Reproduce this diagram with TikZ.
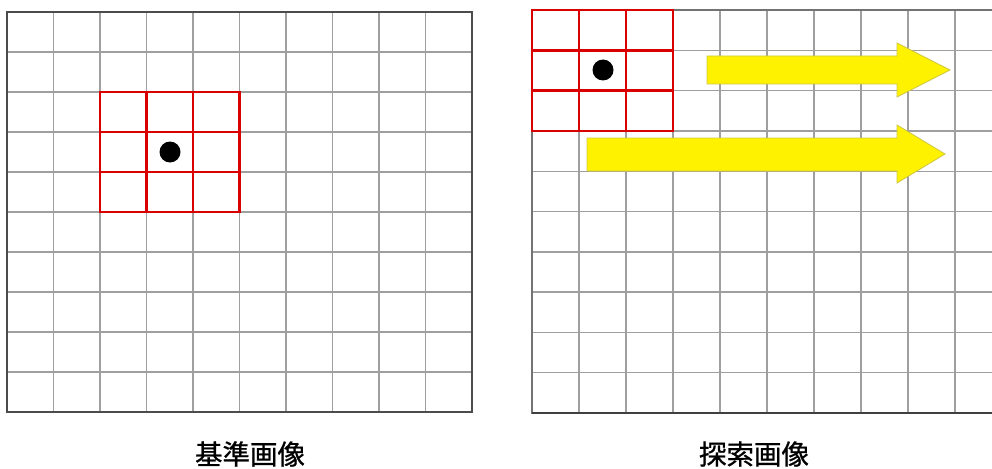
\documentclass[tikz,border=0pt]{standalone}
\usepackage{fontspec}
\newfontfamily\cjk{Noto Sans CJK JP}[FakeBold=0.8]
\tikzset{
  gridline/.style={draw=gray!75, line width=1.4pt},
  frameline/.style={draw=black!70, line width=2.4pt},
  redline/.style={draw=red!85!black, line width=2.8pt},
  yarrow/.style={fill=yellow, draw=yellow!75!black!90, line width=0.8pt, line join=miter},
  dotmark/.style={fill=black},
  caption/.style={font=\cjk\fontsize{27.5}{27.5}\selectfont, text=black, inner sep=0pt}
}
\begin{document}
\begin{tikzpicture}[x=1pt,y=-1pt]
\useasboundingbox (0,0) rectangle (992,468);
\fill[white] (0,0) rectangle (992,468);
% ---- left grid ----
\foreach \i in {1,...,9} \draw[gridline] ({7+46.5*\i},12) -- ({7+46.5*\i},412);
\foreach \j in {1,...,9} \draw[gridline] (7,{12+40*\j}) -- (472,{12+40*\j});
\draw[frameline] (7,12) rectangle (472,412);
% red window
\foreach \i in {1,2} \draw[redline] ({100+46.5*\i},92) -- ({100+46.5*\i},212);
\foreach \j in {1,2} \draw[redline] (100,{92+40*\j}) -- (239.5,{92+40*\j});
\draw[redline] (100,92) rectangle (239.5,212);
\fill[dotmark] (170,152) circle (10.5);
% ---- right grid ----
\begin{scope}
\clip (520,0) rectangle (992,468);
\foreach \i in {1,...,10} \draw[gridline] ({532+47*\i},10) -- ({532+47*\i},413);
\foreach \j in {1,...,9} \draw[gridline] (532,{10+40.3*\j}) -- (1000,{10+40.3*\j});
\draw[draw=gray!90!black, line width=2.4pt] (1010,10) -- (532,10) -- (532,413) -- (1010,413);
\end{scope}
\draw[draw=black!75, line width=2.4pt] (532,413) -- (992,413);
% yellow arrows
\draw[yarrow] (707,56) -- (897,56) -- (897,43) -- (950,70) -- (897,97) -- (897,84) -- (707,84) -- cycle;
\draw[yarrow] (587,138) -- (897,138) -- (897,125) -- (945,154) -- (897,183) -- (897,171) -- (587,171) -- cycle;
% red window
\foreach \i in {1,2} \draw[redline] ({532+47*\i},10) -- ({532+47*\i},131);
\foreach \j in {1,2} \draw[redline] (532,{10+40.3*\j}) -- (673,{10+40.3*\j});
\draw[redline] (532,10) rectangle (673,131);
\fill[dotmark] (603,70) circle (10.5);
% captions
\node[caption] (capL) at (250,454) {基準画像};
\node[caption] (capR) at (754,454) {探索画像};
\end{tikzpicture}
\end{document}
